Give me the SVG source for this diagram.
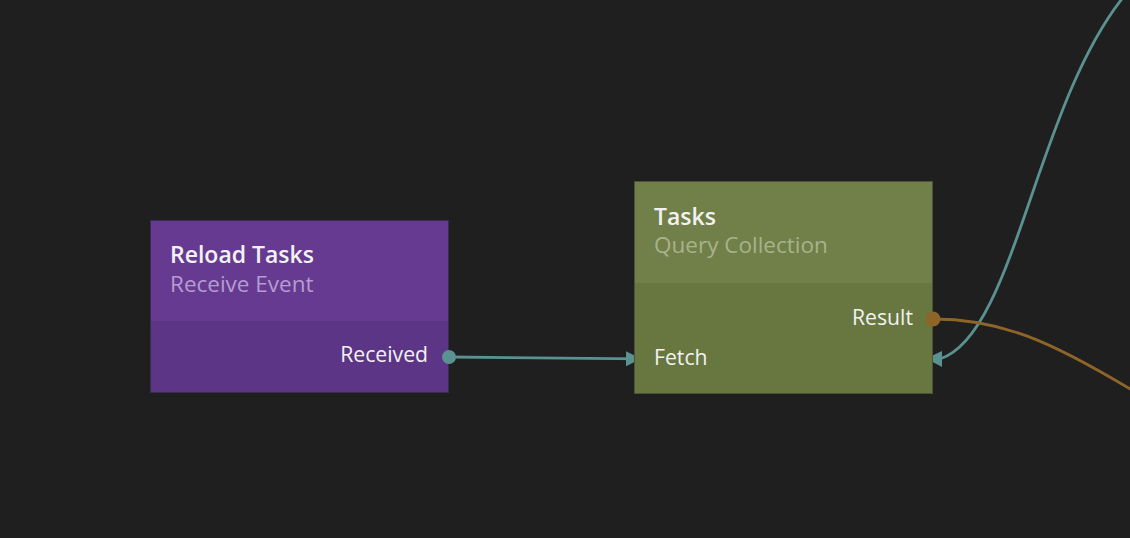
<svg xmlns="http://www.w3.org/2000/svg" width="1130" height="538" viewBox="0 0 1130 538">
<defs>
<style>
.t{font-family:"Open Sans","Noto Sans","Liberation Sans",sans-serif;}
.title{font-size:23px;font-weight:600;fill:#f2f2f2;}
.sub{font-size:22.5px;font-weight:400;}
.port{font-size:21.2px;font-weight:400;fill:#f2f2f2;}
.wire{fill:none;stroke-width:2.8;}
</style>
<marker id="arr" markerWidth="16" markerHeight="16" refX="15" refY="8" orient="auto" markerUnits="userSpaceOnUse">
<path d="M0,0.5 L15,8 L0,15.5 Z" fill="#5a9292"/>
</marker>
</defs>
<rect width="1130" height="538" fill="#1f1f1f"/>
<g id="connectors">
<path class="wire" d="M449,357 L641,358.8" stroke="#5a9292" marker-end="url(#arr)"/>
<path class="wire" d="M1125,-5 C1035,105 1015,335 940,359" stroke="#5a9292"/>
<path d="M926,358.5 L942,351 L942,367 Z" fill="#5a9292"/>
<path class="wire" d="M933,319 C1000,319 1050,340 1140,395" stroke="#8e6528"/>
</g>
<g id="node-reload-tasks">
<rect x="150.5" y="220.5" width="298" height="172" fill="#5d3586" stroke="#3b2a52"/>
<rect x="151" y="221" width="297" height="100" fill="#673a92"/>
<text class="t title" x="170" y="263">Reload Tasks</text>
<text class="t sub" x="170" y="291.5" fill="#b59dd0">Receive Event</text>
<text class="t port" x="428" y="362" text-anchor="end">Received</text>
<circle cx="449" cy="357" r="7" fill="#5a9292"/>
</g>
<g id="node-tasks">
<rect x="634.5" y="181.5" width="298" height="212" fill="#67773f" stroke="#4b5534"/>
<rect x="635" y="182" width="297" height="101" fill="#718049"/>
<text class="t title" x="654" y="224.5">Tasks</text>
<text class="t sub" x="654" y="253" fill="#a8b28c">Query Collection</text>
<text class="t port" x="913" y="325" text-anchor="end">Result</text>
<text class="t port" x="654" y="365">Fetch</text>
<circle cx="933" cy="319" r="7.5" fill="#8e6528"/>
</g>
</svg>
